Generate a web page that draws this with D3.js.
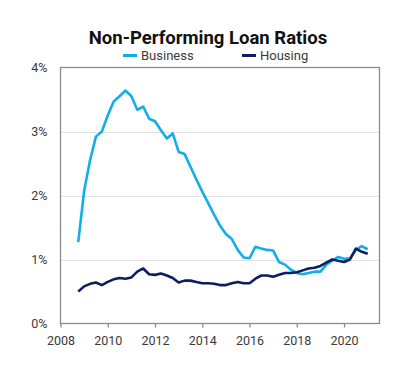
<!DOCTYPE html>
<html>
<head>
<meta charset="utf-8">
<script src="https://cdn.jsdelivr.net/npm/d3@7"></script>
<style>
  body { margin: 0; background: #fff; }
  text { font-family: "Roboto", "DejaVu Sans", sans-serif; }
</style>
</head>
<body>
<div id="chart"></div>
<script>
// quarterly, Sep 2008 to Dec 2020
var startYear = 2008.75;
var business = [1.27, 2.07, 2.55, 2.92, 3.00, 3.25, 3.47, 3.55, 3.64, 3.55,
  3.34, 3.39, 3.20, 3.16, 3.02, 2.89, 2.97, 2.68, 2.65, 2.45,
  2.25, 2.06, 1.88, 1.70, 1.53, 1.40, 1.32, 1.15, 1.03, 1.02,
  1.20, 1.17, 1.15, 1.14, 0.96, 0.92, 0.84, 0.79, 0.77, 0.79,
  0.81, 0.81, 0.92, 0.98, 1.04, 1.01, 1.02, 1.15, 1.21, 1.16];
var housing = [0.50, 0.58, 0.62, 0.64, 0.60, 0.65, 0.69, 0.71, 0.70, 0.72,
  0.81, 0.86, 0.77, 0.76, 0.78, 0.75, 0.71, 0.64, 0.67, 0.67,
  0.65, 0.63, 0.63, 0.62, 0.60, 0.60, 0.63, 0.65, 0.63, 0.63,
  0.70, 0.75, 0.75, 0.73, 0.76, 0.79, 0.79, 0.80, 0.83, 0.86,
  0.87, 0.90, 0.95, 1.00, 0.98, 0.96, 1.00, 1.17, 1.12, 1.09];
var xTicks = [2008, 2010, 2012, 2014, 2016, 2018, 2020];
var yTicks = [0, 1, 2, 3, 4];

var width = 400, height = 376;
var margin = {top: 67.5, right: 20.5, bottom: 52.5, left: 60.5};
var color_business = "#13aeea";
var color_housing = "#0b1f5e";

var svg = d3.select("#chart").append("svg")
  .attr("width", width)
  .attr("height", height);

var x = d3.scaleLinear().domain([2008, 2021.5]).range([margin.left, width - margin.right]);
var y = d3.scaleLinear().domain([0, 4]).range([height - margin.bottom, margin.top]);

//gridlines
svg.append("g")
  .selectAll("line")
  .data(yTicks.slice(1, -1))
  .enter()
  .append("line")
  .attr("x1", margin.left)
  .attr("x2", width - margin.right)
  .attr("y1", d => Math.round(y(d)) + 0.5)
  .attr("y2", d => Math.round(y(d)) + 0.5)
  .style("stroke", "#e3e3e3")
  .style("stroke-width", 1);

//frame
svg.append("rect")
  .attr("x", margin.left)
  .attr("y", margin.top)
  .attr("width", width - margin.right - margin.left)
  .attr("height", height - margin.bottom - margin.top)
  .style("fill", "none")
  .style("stroke", "#8c8c8c")
  .style("stroke-width", 1.3);

//x axis
var xAxis = svg.append("g")
  .attr("transform", "translate(0," + (height - margin.bottom) + ")")
  .call(d3.axisBottom(x).tickValues(xTicks).tickFormat(d3.format("d")).tickSize(4).tickPadding(9));
xAxis.select(".domain").remove();
xAxis.selectAll("line").style("stroke", "#8c8c8c").style("stroke-width", 1.3);
xAxis.selectAll("text").style("font-size", "12.5px").style("fill", "#3a3a3a");

//y axis
var yAxis = svg.append("g")
  .attr("transform", "translate(" + margin.left + ",0)")
  .call(d3.axisLeft(y).tickValues(yTicks).tickFormat(d => d + "%").tickSize(0).tickPadding(13));
yAxis.select(".domain").remove();
yAxis.selectAll("text").style("font-size", "12.5px").style("fill", "#3a3a3a");

//lines
var line = d3.line()
  .x((d, i) => x(startYear + i * 0.25))
  .y(d => y(d));

svg.append("path")
  .datum(business)
  .attr("d", line)
  .style("fill", "none")
  .style("stroke", color_business)
  .style("stroke-width", 2.6)
  .style("stroke-linejoin", "round");

svg.append("path")
  .datum(housing)
  .attr("d", line)
  .style("fill", "none")
  .style("stroke", color_housing)
  .style("stroke-width", 2.6)
  .style("stroke-linejoin", "round");

//title
svg.append("text")
  .attr("x", 208)
  .attr("y", 44)
  .attr("text-anchor", "middle")
  .style("font-size", "18.5px")
  .style("font-weight", "bold")
  .style("fill", "#111")
  .text("Non-Performing Loan Ratios");

//legend
var legend = [["Business", color_business, 123], ["Housing", color_housing, 242]];
var key = svg.append("g");
legend.forEach(function(l) {
  key.append("line")
    .attr("x1", l[2]).attr("x2", l[2] + 14)
    .attr("y1", 55.5).attr("y2", 55.5)
    .style("stroke", l[1])
    .style("stroke-width", 3);
  key.append("text")
    .attr("x", l[2] + 18)
    .attr("y", 60)
    .style("font-size", "13px")
    .style("fill", "#3a3a3a")
    .text(l[0]);
});
</script>
</body>
</html>
